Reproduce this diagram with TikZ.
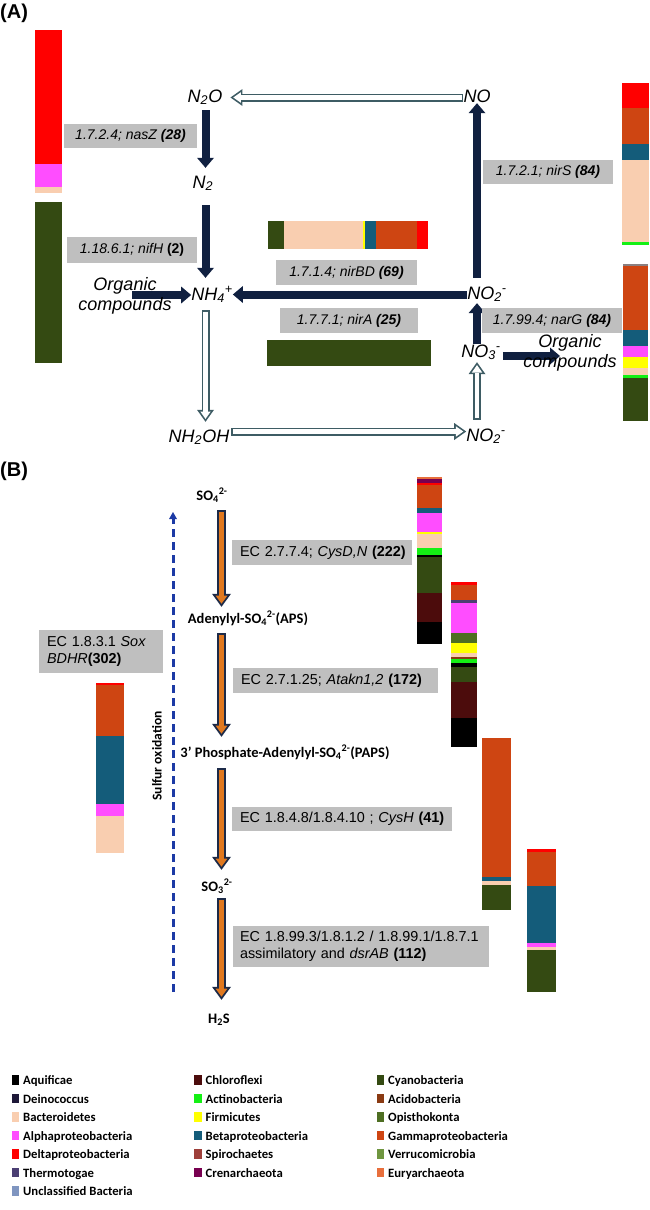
\documentclass[tikz,border=0pt]{standalone}
\usepackage{fontspec}
\setmainfont{Liberation Sans}
\newfontfamily\carl{Carlito}
\usetikzlibrary{arrows.meta}
\pgfdeclarelayer{bg}
\pgfsetlayers{bg,main}
\definecolor{navy}{RGB}{16,32,64}
\definecolor{slate}{RGB}{62,92,100}
\definecolor{boxgray}{RGB}{191,191,191}
\definecolor{orng}{RGB}{224,120,30}
\definecolor{onavy}{RGB}{28,42,72}
\definecolor{dashblue}{RGB}{28,58,165}
\definecolor{cRed}{RGB}{255,0,0}
\definecolor{cMag}{RGB}{255,77,255}
\definecolor{cPeach}{RGB}{249,206,176}
\definecolor{cCyano}{RGB}{52,74,18}
\definecolor{cGamma}{RGB}{206,69,18}
\definecolor{cBeta}{RGB}{20,92,122}
\definecolor{cYel}{RGB}{255,255,0}
\definecolor{cAct}{RGB}{20,240,20}
\definecolor{cChl}{RGB}{76,12,12}
\definecolor{cOpis}{RGB}{78,110,34}
\definecolor{cAcid}{RGB}{138,58,18}
\definecolor{cSpiro}{RGB}{158,63,58}
\definecolor{cCren}{RGB}{120,0,80}
\definecolor{cVerr}{RGB}{111,150,64}
\definecolor{cEury}{RGB}{232,111,60}
\definecolor{cTherm}{RGB}{75,63,115}
\definecolor{cUncl}{RGB}{127,149,192}
\definecolor{cDein}{RGB}{30,24,56}
\definecolor{cAqu}{RGB}{0,0,0}
\definecolor{cGrayTop}{RGB}{138,127,128}
% hollow arrow: from, to, shorten start, shorten end
\newcommand\harr[4]{%
  \draw[draw=slate, line width=8pt, -{Triangle[width=17pt,length=12pt,line width=0pt]}, shorten <=#3, shorten >=#4] #1 -- #2;
  \draw[draw=white, line width=4.6pt, -{Triangle[width=10.4pt,length=7.4pt,line width=0pt]}, shorten <=#3+1.7pt, shorten >=#4+2.9pt] #1 -- #2;}
% orange arrow with navy outline
\newcommand\oarr[4]{%
  \draw[draw=onavy, line width=9pt, -{Triangle[width=19pt,length=13pt,line width=0pt]}, shorten <=#3, shorten >=#4] #1 -- #2;
  \draw[draw=orng, line width=5.4pt, -{Triangle[width=11.8pt,length=8.1pt,line width=0pt]}, shorten <=#3+1.8pt, shorten >=#4+3.1pt] #1 -- #2;}
\begin{document}
\begin{tikzpicture}[x=1pt,y=-1pt,
  sp/.style={inner sep=0pt, anchor=base, font=\fontsize{18}{20}\selectfont\itshape, text height=13pt, text depth=4pt},
  org/.style={inner sep=0pt, align=center, font=\fontsize{18}{20}\selectfont\itshape},
  abox/.style={fill=boxgray, inner sep=0pt, font=\fontsize{14}{16}\selectfont\itshape},
  bbox/.style={fill=boxgray, inner xsep=8pt, inner ysep=0pt, align=left, font=\fontsize{14.4}{17.5}\selectfont},
  spB/.style={inner sep=0pt, anchor=base, font=\carl\bfseries\fontsize{14.5}{16}\selectfont, text height=10pt, text depth=3pt},
  navyarr/.style={draw=navy, line width=8pt, -{Triangle[width=17pt,length=10pt,line width=0pt]}},
  lsq/.style={inner sep=0pt, minimum width=7.5pt, minimum height=9.5pt},
  ltxt/.style={anchor=base west, inner sep=0pt, font=\carl\bfseries\fontsize{12.7}{14}\selectfont},
  panel/.style={anchor=base west, inner sep=0pt, font=\bfseries\fontsize{20}{22}\selectfont}
]
\useasboundingbox (0,0) rectangle (650,1210);

% ================= PART A =================
\node[panel] (labA) at (0,18) {(A)};

% left bar A
\fill[cRed] (35,30) rectangle (62,164);
\fill[cMag] (35,164) rectangle (62,187);
\fill[cPeach] (35,187) rectangle (62,193);
\fill[cCyano] (35,202) rectangle (62,363);

% nirBD bar
\fill[cCyano] (268,221) rectangle (284,249);
\fill[cPeach] (284,221) rectangle (363,249);
\fill[cYel] (363,221) rectangle (365,249);
\fill[cBeta] (365,221) rectangle (376,249);
\fill[cGamma] (376,221) rectangle (417,249);
\fill[cRed] (417,221) rectangle (428,249);
% nirA bar
\fill[cCyano] (267,340) rectangle (431,366);

% right bars A
\fill[cRed] (622,83) rectangle (649,108);
\fill[cGamma] (622,108) rectangle (649,144);
\fill[cBeta] (622,144) rectangle (649,160);
\fill[cPeach] (622,160) rectangle (649,242);
\fill[cAct] (622,242) rectangle (649,245);

\fill[cGrayTop] (623,264) rectangle (648,266);
\fill[cGamma] (623,266) rectangle (648,330);
\fill[cBeta] (623,330) rectangle (648,346);
\fill[cMag] (623,346) rectangle (648,357);
\fill[cYel] (623,357) rectangle (648,368);
\fill[cPeach] (623,368) rectangle (648,375);
\fill[cAct] (623,375) rectangle (648,378);
\fill[cCyano] (623,378) rectangle (648,421);

% enzyme boxes A
\node[abox, minimum width=133pt, minimum height=24pt] (bnasZ) at (130.5,136) {1.7.2.4; nasZ \textbf{(28)}};
\node[abox, minimum width=130pt, minimum height=26pt] (bnifH) at (132,250) {1.18.6.1; nifH \textbf{\upshape(2)}};
\node[abox, minimum width=141pt, minimum height=25pt] (bnirBD) at (346.5,272.5) {1.7.1.4; nirBD \textbf{(69)}};
\node[abox, minimum width=138pt, minimum height=25pt] (bnirA) at (349,320.5) {1.7.7.1; nirA \textbf{(25)}};
\node[abox, minimum width=130pt, minimum height=24pt] (bnirS) at (548,172) {1.7.2.1; nirS \textbf{(84)}};
\node[abox, minimum width=140pt, minimum height=25pt] (bnarG) at (552,320.5) {1.7.99.4; narG \textbf{(84)}};

% species A
\node[sp] (n2o) at (205,102) {N\textsubscript{2}O};
\node[sp] (no) at (477,102) {NO};
\node[sp] (n2) at (203,188) {N\textsubscript{2}};
\node[sp] (nh4) at (212,300) {NH\textsubscript{4}\textsuperscript{+}};
\node[sp] (no2u) at (487,299) {NO\textsubscript{2}\textsuperscript{-}};
\node[sp] (no3) at (481,357) {NO\textsubscript{3}\textsuperscript{-}};
\node[sp] (nh2oh) at (199,442) {NH\textsubscript{2}OH};
\node[sp] (no2l) at (486,441) {NO\textsubscript{2}\textsuperscript{-}};
\node[org] (orgL) at (125,296) {Organic\\compounds};
\node[org] (orgR) at (570,353) {Organic\\compounds};

\coordinate (colL) at (205.5,0);
\coordinate (colR) at (477,0);
\path ([yshift=6pt]nh2oh.east) coordinate (hh);
\path ([yshift=-3pt]orgR.center) coordinate (oR);
\path ([yshift=1pt]orgL.center) coordinate (oL);

\begin{pgfonlayer}{bg}
\draw[navyarr, shorten <=4pt, shorten >=7pt] (colL |- n2o.south) -- (colL |- n2.north);
\draw[navyarr, shorten <=13pt, shorten >=9pt] (colL |- n2.south) -- (colL |- nh4.north);
\harr{(colL |- nh4.south)}{(colL |- nh2oh.north)}{6pt}{7pt}
\harr{(no.west)}{(no.west -| n2o.east)}{0pt}{8pt}
\draw[navyarr] (no2u.west) -- (no2u.west -| nh4.east);
\draw[navyarr, shorten <=7pt] (oL) -- (oL -| nh4.west);
\harr{(hh)}{(hh -| no2l.west)}{2pt}{0pt}
\harr{(colR |- no2l.north)}{(colR |- no3.south)}{8pt}{1pt}
\draw[navyarr] (colR |- no3.north) -- (colR |- no2u.south);
\draw[navyarr, shorten <=8pt, shorten >=-3pt] (colR |- no2u.north) -- (colR |- no.south);
\draw[navyarr, shorten <=2pt, shorten >=10pt] (no3.east |- oR) -- (oR);
\end{pgfonlayer}

% ================= PART B =================
\node[panel] (labB) at (0,476) {(B)};

% bars B
\fill[cEury] (417,477) rectangle (442,479);
\fill[cCren] (417,479) rectangle (442,483);
\fill[cRed] (417,483) rectangle (442,485);
\fill[cGamma] (417,485) rectangle (442,508);
\fill[cBeta] (417,508) rectangle (442,513);
\fill[cMag] (417,513) rectangle (442,532);
\fill[cYel] (417,532) rectangle (442,534);
\fill[cPeach] (417,534) rectangle (442,548);
\fill[cAct] (417,548) rectangle (442,555);
\fill[black] (417,555) rectangle (442,557);
\fill[cCyano] (417,557) rectangle (442,593);
\fill[cChl] (417,593) rectangle (442,622);
\fill[black] (417,622) rectangle (442,644);

\fill[cRed] (451,582) rectangle (477,585);
\fill[cGamma] (451,585) rectangle (477,600);
\fill[cTherm] (451,600) rectangle (477,603);
\fill[cMag] (451,603) rectangle (477,633);
\fill[cOpis] (451,633) rectangle (477,643);
\fill[cYel] (451,643) rectangle (477,653);
\fill[cPeach] (451,653) rectangle (477,657);
\fill[cAcid] (451,657) rectangle (477,659);
\fill[cAct] (451,659) rectangle (477,663);
\fill[black] (451,663) rectangle (477,667);
\fill[cCyano] (451,667) rectangle (477,682);
\fill[cChl] (451,682) rectangle (477,718);
\fill[black] (451,718) rectangle (477,747);

\fill[cGamma] (482,738) rectangle (511,877);
\fill[cBeta] (482,877) rectangle (511,881);
\fill[cPeach] (482,881) rectangle (511,885);
\fill[cCyano] (482,885) rectangle (511,910);

\fill[cRed] (527,849) rectangle (556,852);
\fill[cGamma] (527,852) rectangle (556,886);
\fill[cBeta] (527,886) rectangle (556,943);
\fill[cMag] (527,943) rectangle (556,947);
\fill[cPeach] (527,947) rectangle (556,950);
\fill[cCyano] (527,950) rectangle (556,992);

% Sox bar
\fill[cRed] (96,683) rectangle (124,685);
\fill[cGamma] (96,685) rectangle (124,736);
\fill[cBeta] (96,736) rectangle (124,804);
\fill[cMag] (96,804) rectangle (124,816);
\fill[cPeach] (96,816) rectangle (124,853);

% enzyme boxes B
\node[bbox, text width=164pt, minimum height=25pt] (bcys) at (322,552.5) {\mbox{EC 2.7.7.4; \textit{CysD,N} \textbf{(222)}}};
\node[bbox, text width=189pt, minimum height=25pt] (bata) at (335.5,680.5) {\mbox{EC 2.7.1.25; \textit{Atakn1,2} \textbf{(172)}}};
\node[bbox, text width=204pt, minimum height=24pt] (bcysh) at (342,819) {\mbox{EC 1.8.4.8/1.8.4.10 ; \textit{CysH} \textbf{(41)}}};
\node[bbox, inner xsep=7pt, text width=242pt, minimum height=41pt] (bdsr) at (361,946.5) {\mbox{EC 1.8.99.3/1.8.1.2 / 1.8.99.1/1.8.7.1}\\\mbox{assimilatory and \textit{dsrAB} \textbf{(112)}}};
\node[bbox, text width=108pt, minimum height=43pt] (bsox) at (101,651.5) {\mbox{EC 1.8.3.1 \textit{Sox}}\\\mbox{\textit{BDHR}\textbf{(302)}}};

% species B
\node[spB] (so4) at (212,500) {SO\textsubscript{4}\textsuperscript{2-}};
\node[spB] (aps) at (248,623) {Adenylyl-SO\textsubscript{4}\textsuperscript{2-}(APS)};
\node[spB] (paps) at (285,757) {3’ Phosphate-Adenylyl-SO\textsubscript{4}\textsuperscript{2-}(PAPS)};
\node[spB] (so3) at (217,891) {SO\textsubscript{3}\textsuperscript{2-}};
\node[spB] (h2s) at (219,1023) {H\textsubscript{2}S};

\node[rotate=90, inner sep=0pt, font=\carl\bfseries\fontsize{13.5}{15}\selectfont] (soxlab) at (157,756) {Sulfur oxidation};

\coordinate (colB) at (221.5,0);
\coordinate (dB) at (173,992);
\coordinate (dT) at (173,512);

\begin{pgfonlayer}{bg}
\oarr{(colB |- so4.south)}{(colB |- aps.north)}{7pt}{6pt}
\oarr{(colB |- aps.south)}{(colB |- paps.north)}{7pt}{10pt}
\oarr{(colB |- paps.south)}{(colB |- so3.north)}{8pt}{11pt}
\oarr{(colB |- so3.south)}{(colB |- h2s.north)}{4pt}{13pt}
\draw[dashblue, line width=3pt, dash pattern=on 8pt off 5pt, -{Triangle[width=8pt,length=7pt,line width=0pt]}] (dB) -- (dT);
\end{pgfonlayer}

% ================= LEGEND =================
\foreach \n/\cl/\tx/\cx/\r in {
  1/cAqu/Aquificae/0/0, 2/cDein/Deinococcus/0/1, 3/cPeach/Bacteroidetes/0/2,
  4/cMag/Alphaproteobacteria/0/3, 5/cRed/Deltaproteobacteria/0/4,
  6/cTherm/Thermotogae/0/5, 7/cUncl/Unclassified Bacteria/0/6,
  8/cChl/Chloroflexi/1/0, 9/cAct/Actinobacteria/1/1, 10/cYel/Firmicutes/1/2,
  11/cBeta/Betaproteobacteria/1/3, 12/cSpiro/Spirochaetes/1/4, 13/cCren/Crenarchaeota/1/5,
  14/cCyano/Cyanobacteria/2/0, 15/cAcid/Acidobacteria/2/1, 16/cOpis/Opisthokonta/2/2,
  17/cGamma/Gammaproteobacteria/2/3, 18/cVerr/Verrucomicrobia/2/4, 19/cEury/Euryarchaeota/2/5}
{
  \node[lsq, fill=\cl] (q\n) at ({15.5+182.5*\cx}, {1084.5+18.5*\r-4.75}) {};
  \node[ltxt] (t\n) at ({23+182.5*\cx}, {1084.5+18.5*\r}) {\tx};
}
\end{tikzpicture}
\end{document}
